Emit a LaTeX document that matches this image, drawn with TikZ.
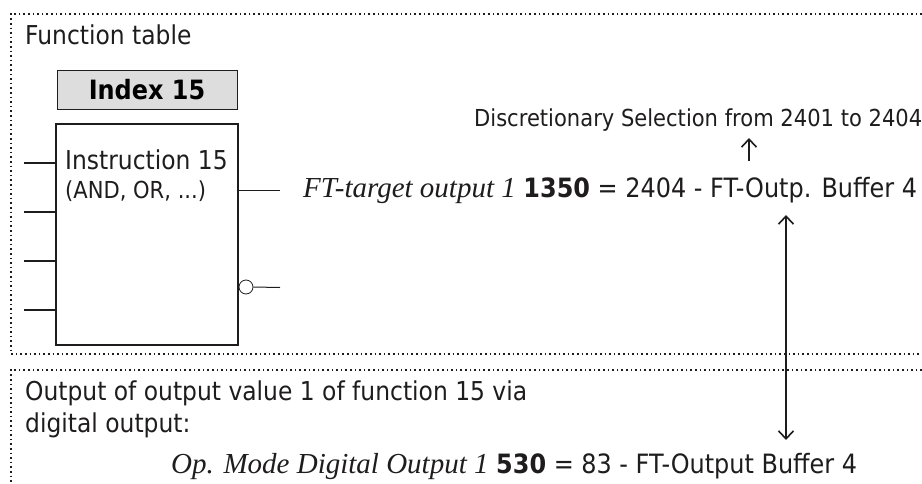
\documentclass[tikz,border=0pt]{standalone}
\usepackage{fontspec}
\usetikzlibrary{arrows.meta}
\setmainfont[FakeStretch=0.9]{DejaVu Sans}
\newfontfamily\italicserif{Liberation Serif Italic}
\definecolor{indexcolor}{RGB}{221,221,221}
\definecolor{linecolor}{RGB}{30,28,28}
\tikzset{
  label/.style={anchor=west,inner sep=0pt,text=linecolor,font=\fontsize{26}{30}\selectfont},
  small/.style={anchor=west,inner sep=0pt,text=linecolor,font=\fontsize{23.4}{28}\selectfont},
  param/.style={anchor=west,inner sep=0pt,text=linecolor,font=\fontsize{26.6}{30}\selectfont},
  frame/.style={dash pattern=on 1.6pt off 3pt,line width=1.6pt,color=linecolor},
  wire/.style={line width=1pt,color=linecolor},
  pointer/.style={line width=1.6pt,color=linecolor,{Straight Barb[length=8pt,width=15pt]}-{Straight Barb[length=8pt,width=15pt]}},
  uponly/.style={line width=1.6pt,color=linecolor,-{Straight Barb[length=8pt,width=15pt]}}
}
\begin{document}
\begin{tikzpicture}[x=1pt,y=-1pt]
  \useasboundingbox (0,0) rectangle (922,483);
  % Frames
  \draw [frame](922,14) -- (11,14) -- (11,354) -- (922,354);
  \draw [frame](922,370) -- (11,370) -- (11,483);
  % Function table
  \node at(25,35)[label](title){Function table};
  \node at(147,90)[rectangle,draw=linecolor,line width=0.8pt,fill=indexcolor,minimum width=180pt,minimum height=39pt,inner sep=0pt,font=\fontsize{26.6}{30}\selectfont\bfseries](index){Index 15};
  \node at(147,234.5)[rectangle,draw=linecolor,line width=1.6pt,minimum width=182pt,minimum height=221pt](block){};
  \node at(65,160)[label](instr){Instruction 15};
  \node at(65,191)[small](ops){(AND, OR, ...)};
  % Inputs
  \coordinate (in1) at (24,163);
  \coordinate (in2) at (24,212);
  \coordinate (in3) at (24,261);
  \coordinate (in4) at (24,310);
  \foreach \n in {1,2,3,4}
    \draw [wire,line width=1.4pt](in\n) -- (in\n -| block.west);
  % Outputs
  \node at(246,287)[circle,draw=linecolor,line width=0.8pt,fill=white,minimum size=14pt,inner sep=0pt](neg){};
  \coordinate (out1) at (280,190);
  \coordinate (out2) at (280,287.5);
  \draw [wire](block.east |- out1) -- (out1);
  \draw [wire](neg.east) -- (out2);
  % Parameter lines
  \node at(474,120)[small](select){Discretionary Selection from 2401 to 2404};
  \node at(303,190)[param](target){{\fontsize{29}{30}\selectfont\italicserif FT-target output 1} \textbf{1350} = 2404 - FT-Outp. Buffer 4};
  \coordinate (sel1) at (749,161);
  \coordinate (sel2) at (749,138);
  \draw [uponly](sel1) -- (sel2);
  % Output section
  \node at(25,393)[label](outa){Output of output value 1 of function 15 via};
  \node at(25,425)[label](outb){digital output:};
  \node at(171,466)[param](mode){{\fontsize{29}{30}\selectfont\italicserif Op. Mode Digital Output 1} \textbf{530} = 83 - FT-Output Buffer 4};
  \coordinate (buf1) at (786,215);
  \coordinate (buf2) at (786,440);
  \draw [pointer](buf1) -- (buf2);
\end{tikzpicture}
\end{document}
